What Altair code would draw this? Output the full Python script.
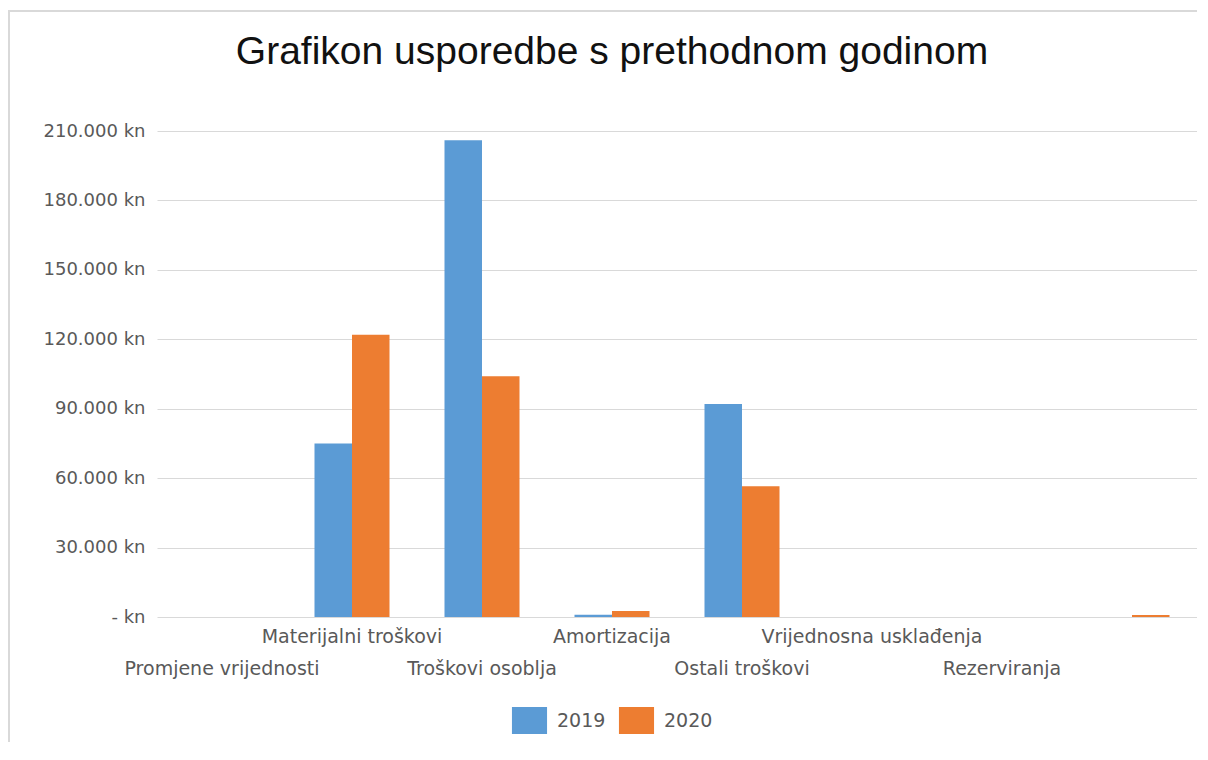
import altair as alt
import pandas as pd

title_text = "Grafikon usporedbe s prethodnom godinom"
categories = ["Promjene vrijednosti", "Materijalni troškovi", "Troškovi osoblja",
              "Amortizacija", "Ostali troškovi", "Vrijednosna usklađenja",
              "Rezerviranja", " "]
label_rows = [1, 0, 1, 0, 1, 0, 1, 0]
years = ["2019", "2020"]
values_2019 = [0, 75000, 206000, 1000, 92000, 0, 0, 0]
values_2020 = [0, 122000, 104000, 2600, 56500, 0, 0, 900]
y_ticks = [0, 30000, 60000, 90000, 120000, 150000, 180000, 210000]
colors = ["#5B9BD5", "#ED7D31"]

rows = []
for c, v1, v2 in zip(categories, values_2019, values_2020):
    rows.append({"kategorija": c, "godina": "2019", "iznos": v1})
    rows.append({"kategorija": c, "godina": "2020", "iznos": v2})
bars_df = pd.DataFrame(rows)
labels_df = pd.DataFrame({"kategorija": categories, "red": label_rows})

W, H = 1040, 486
GREY = "#595959"
LABEL_FONT = "DejaVu Sans"

xenc = alt.X("kategorija:N", sort=categories,
             scale=alt.Scale(paddingInner=0.423, paddingOuter=0.2115), axis=None)

bars = alt.Chart(bars_df).mark_bar().encode(
    x=xenc,
    xOffset=alt.XOffset("godina:N", sort=years, scale=alt.Scale(paddingInner=0, paddingOuter=0)),
    y=alt.Y("iznos:Q", scale=alt.Scale(domain=[0, 210000], nice=False),
            axis=alt.Axis(values=y_ticks, title=None, ticks=False, domain=False,
                          gridColor="#d9d9d9", gridWidth=1.2,
                          labelFont=LABEL_FONT, labelFontSize=18, labelColor=GREY,
                          labelPadding=12,
                          labelExpr="datum.value == 0 ? '- kn' : format(datum.value / 1000, 'd') + '.000 kn'")),
    color=alt.Color("godina:N", sort=years,
                    scale=alt.Scale(domain=years, range=colors),
                    legend=alt.Legend(title=None, orient="none", direction="horizontal",
                                      legendX=359, legendY=576, padding=0,
                                      symbolType="M-1.3,-1H1.3V1H-1.3Z", symbolSize=729,
                                      symbolStrokeWidth=0, labelOffset=14, columnPadding=12,
                                      labelFont=LABEL_FONT, labelFontSize=19, labelColor=GREY)),
)

row0 = alt.Chart(labels_df).transform_filter("datum.red == 0").mark_text(
    font=LABEL_FONT, fontSize=19, color=GREY, baseline="middle", align="center"
).encode(x=alt.X("kategorija:N", sort=categories), y=alt.value(506), text="kategorija:N")

row1 = alt.Chart(labels_df).transform_filter("datum.red == 1").mark_text(
    font=LABEL_FONT, fontSize=19, color=GREY, baseline="middle", align="center"
).encode(x=alt.X("kategorija:N", sort=categories), y=alt.value(538), text="kategorija:N")

title_data = alt.Data(values=[{"naslov": title_text}])
title_mark = alt.Chart(title_data).mark_text(
    font="Liberation Sans", fontSize=39, color="#111111", align="center", baseline="alphabetic"
).encode(x=alt.value(455), y=alt.value(-67), text="naslov:N")

frame_data = alt.Data(values=[{"k": 1}])
border_left = alt.Chart(frame_data).mark_rule(color="#d9d9d9", strokeWidth=2).encode(
    x=alt.value(-148), y=alt.value(-120), y2=alt.value(640))
border_top = alt.Chart(frame_data).mark_rule(color="#d9d9d9", strokeWidth=2).encode(
    x=alt.value(-149), x2=alt.value(1045), y=alt.value(-120))

chart = alt.layer(bars, row0, row1, title_mark, border_left, border_top).properties(
    width=W, height=H,
    autosize=alt.AutoSizeParams(type="none"),
    padding={"left": 149, "top": 123, "right": 0, "bottom": 125},
).configure_view(stroke=None)

chart.save("out.html", embed_options={"renderer": "svg", "actions": False})
